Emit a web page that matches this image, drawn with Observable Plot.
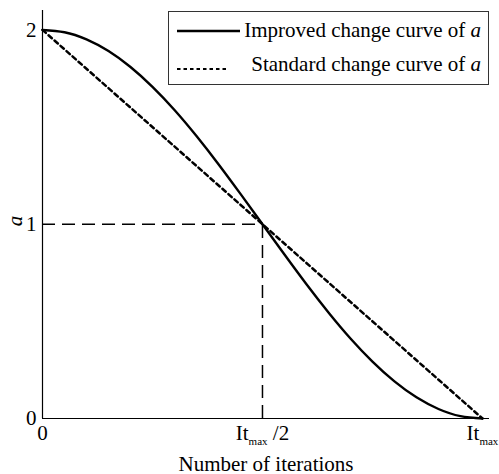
<!DOCTYPE html>
<html>
<head>
<meta charset="utf-8">
<script src="https://cdn.jsdelivr.net/npm/d3@7"></script>
<script src="https://cdn.jsdelivr.net/npm/@observablehq/plot@0.6"></script>
<style>
  html, body { margin: 0; padding: 0; background: #fff; }
  svg, svg text { font-family: "Liberation Serif", "Times New Roman", serif !important; }
</style>
</head>
<body>
<div id="chart"></div>
<script>
// Fraction of maximum iterations (0 .. It_max)
const iterFrac = [0, 0.05, 0.1, 0.15, 0.2, 0.25, 0.3, 0.35, 0.4, 0.45, 0.5,
                  0.55, 0.6, 0.65, 0.7, 0.75, 0.8, 0.85, 0.9, 0.95, 1];
// Improved change curve of a
const improvedA = [2.000, 1.988, 1.951, 1.891, 1.809, 1.707, 1.588, 1.454, 1.309, 1.156, 1.000,
                   0.844, 0.691, 0.546, 0.412, 0.293, 0.191, 0.109, 0.049, 0.012, 0.000];
// Standard change curve of a
const standardFrac = [0, 0.5, 1];
const standardA = [2, 1, 0];
// Guide lines
const guideX = [0.5];
const guideY = [1];
// Ticks
const xTicks = [0, 0.5, 1];
const xTickLabels = ["0", "It_max /2", "It_max"];
const yTicks = [0, 1, 2];
const seriesNames = ["Improved change curve of a", "Standard change curve of a"];

const improved = iterFrac.map((t, i) => ({t, a: improvedA[i]}));
const standard = standardFrac.map((t, i) => ({t, a: standardA[i]}));

const chart = Plot.plot({
  width: 499,
  height: 474,
  marginLeft: 42,
  marginRight: 10,
  marginTop: 10,
  marginBottom: 56,
  style: {fontFamily: "Liberation Serif, serif", fontSize: "21px", background: "#fff", color: "#000"},
  x: {domain: [0, 1.016]},
  y: {domain: [0, 2.1]},
  marks: [
    Plot.axisX({ticks: xTicks, tickSize: 0, tickPadding: 7,
      tickFormat: d => xTickLabels[xTicks.indexOf(d)],
      label: "Number of iterations", labelAnchor: "center", labelArrow: "none", labelOffset: 52}),
    Plot.axisY({ticks: yTicks, tickSize: 0, tickPadding: 6, tickFormat: d => String(d),
      label: "a", labelAnchor: "center", labelArrow: "none", labelOffset: 30}),
    Plot.ruleY(guideY, {x1: 0, x2: guideX[0], stroke: "#000", strokeWidth: 1.5, strokeDasharray: "13,7"}),
    Plot.ruleX(guideX, {y1: 0, y2: guideY[0], stroke: "#000", strokeWidth: 1.5, strokeDasharray: "13,7"}),
    Plot.line(standard, {x: "t", y: "a", stroke: "#000", strokeWidth: 2.5, strokeDasharray: "4.5,3.5"}),
    Plot.line(improved, {x: "t", y: "a", stroke: "#000", strokeWidth: 2.4, curve: "natural"}),
    Plot.ruleX([0], {stroke: "#000", strokeWidth: 1.2}),
    Plot.ruleY([0], {stroke: "#000", strokeWidth: 1.2})
  ]
});

document.getElementById("chart").appendChild(chart);

const svg = d3.select(chart);
// Subscripts on x tick labels
svg.selectAll('g[aria-label="x-axis tick label"] text').each(function() {
  const el = d3.select(this);
  const txt = el.text();
  if (txt.startsWith("It_max")) {
    const rest = txt.slice(6);
    el.text(null);
    el.append("tspan").text("It");
    el.append("tspan").attr("font-size", "11px").attr("dy", "5").text("max");
    if (rest) el.append("tspan").attr("dy", "-5").text(rest);
  }
});
// Italic y label, centred on the a = 1 level (moved to svg root)
svg.selectAll('g[aria-label="y-axis label"] text').each(function() {
  chart.appendChild(this);
  d3.select(this)
    .style("font-style", "italic")
    .attr("font-size", "21px")
    .attr("transform", "translate(15,221) rotate(-90)")
    .attr("x", null).attr("y", null).attr("dy", "0.32em")
    .attr("text-anchor", "middle");
});

// Legend
const lg = svg.append("g").attr("class", "legend");
lg.append("rect").attr("x", 168.5).attr("y", 11.5).attr("width", 320).attr("height", 73)
  .attr("fill", "#fff").attr("stroke", "#333").attr("stroke-width", 1);
lg.append("line").attr("x1", 177).attr("x2", 240).attr("y1", 31).attr("y2", 31)
  .attr("stroke", "#000").attr("stroke-width", 2.4);
lg.append("line").attr("x1", 177).attr("x2", 228).attr("y1", 69).attr("y2", 69)
  .attr("stroke", "#000").attr("stroke-width", 2.2).attr("stroke-dasharray", "3.5,3");
seriesNames.forEach((name, i) => {
  const t = lg.append("text").attr("x", 481).attr("y", i === 0 ? 37 : 71)
    .attr("text-anchor", "end").attr("font-size", "21px");
  t.append("tspan").text(name.slice(0, -1));
  t.append("tspan").style("font-style", "italic").text(name.slice(-1));
});
</script>
</body>
</html>
